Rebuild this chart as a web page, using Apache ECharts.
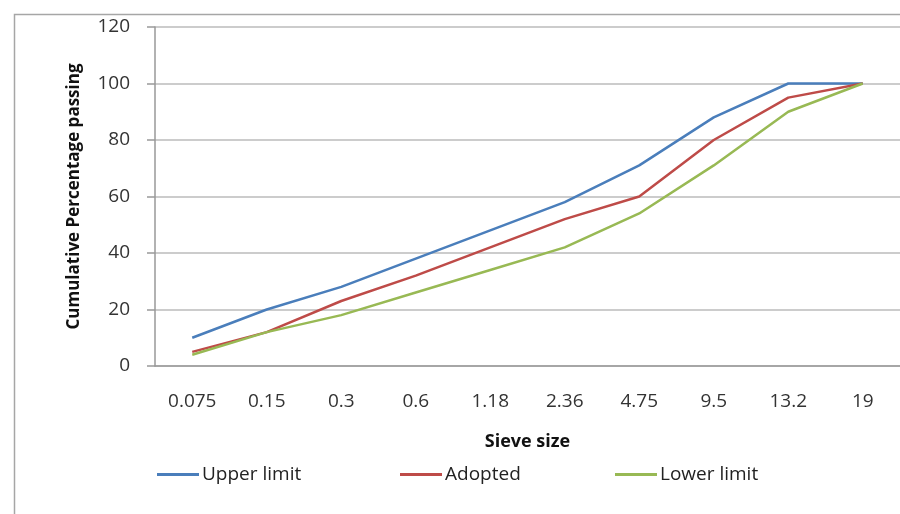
<!DOCTYPE html>
<html>
<head>
<meta charset="utf-8">
<script src="https://cdn.jsdelivr.net/npm/echarts@6/dist/echarts.min.js"></script>
<style>html,body{margin:0;padding:0;background:#fff;}#c{width:900px;height:514px;}</style>
</head>
<body>
<div id="c"></div>
<script>
var categories = ['0.075','0.15','0.3','0.6','1.18','2.36','4.75','9.5','13.2','19'];
var upperLimit = [10, 20, 28, 38, 48, 58, 71, 88, 100, 100];
var adopted = [5, 12, 23, 32, 42, 52, 60, 80, 95, 100];
var lowerLimit = [4, 12, 18, 26, 34, 42, 54, 71, 90, 100];
var yTicks = [0, 20, 40, 60, 80, 100, 120];
var seriesNames = ['Upper limit', 'Adopted', 'Lower limit'];

var FONT = 'Open Sans';
var legendLefts = [152, 395, 610];
var legends = seriesNames.map(function (n, i) {
  return {
    top: 460, left: legendLefts[i],
    itemWidth: 42, itemHeight: 3, itemGap: 5,
    icon: 'rect',
    textStyle: { fontFamily: FONT, fontSize: 19, color: '#222', padding: [0, 0, 0, -2] },
    data: [n]
  };
});
var chart = echarts.init(document.getElementById('c'));
chart.setOption({
  animation: false,
  backgroundColor: '#fff',
  graphic: [{
    type: 'rect', left: 12, top: 12, z: -1,
    shape: { width: 900, height: 520 },
    style: { fill: 'none', stroke: '#a6a6a6', lineWidth: 1.5 }
  }],
  grid: { left: 155, right: -5, top: 27, bottom: 148 },
  legend: legends,
  xAxis: {
    type: 'category',
    data: categories,
    boundaryGap: true,
    name: 'Sieve size',
    nameLocation: 'middle',
    nameGap: 67,
    nameTextStyle: { fontFamily: FONT, fontSize: 18, fontWeight: 'bold', color: '#111' },
    axisLine: { lineStyle: { color: '#999', width: 1.5 } },
    axisTick: { show: false },
    axisLabel: { margin: 26, fontFamily: FONT, fontSize: 19, color: '#333' }
  },
  yAxis: {
    type: 'value',
    min: yTicks[0], max: yTicks[yTicks.length - 1], interval: 20,
    name: 'Cumulative Percentage passing',
    nameLocation: 'middle',
    nameGap: 72,
    nameTextStyle: { fontFamily: FONT, fontSize: 17, fontWeight: 'bold', color: '#111' },
    axisLine: { show: true, lineStyle: { color: '#999', width: 1.5 } },
    axisTick: { show: true, length: 8, lineStyle: { color: '#999', width: 1.5 } },
    splitLine: { lineStyle: { color: '#bbb', width: 1.5 } },
    axisLabel: { margin: 25, fontFamily: FONT, fontSize: 19, color: '#333' }
  },
  series: [
    { name: seriesNames[0], type: 'line', data: upperLimit, symbol: 'none',
      itemStyle: { color: '#4a7ebb' }, lineStyle: { color: '#4a7ebb', width: 2.5 } },
    { name: seriesNames[1], type: 'line', data: adopted, symbol: 'none',
      itemStyle: { color: '#be4b48' }, lineStyle: { color: '#be4b48', width: 2.5 } },
    { name: seriesNames[2], type: 'line', data: lowerLimit, symbol: 'none',
      itemStyle: { color: '#98b954' }, lineStyle: { color: '#98b954', width: 2.5 } }
  ]
});
</script>
</body>
</html>
